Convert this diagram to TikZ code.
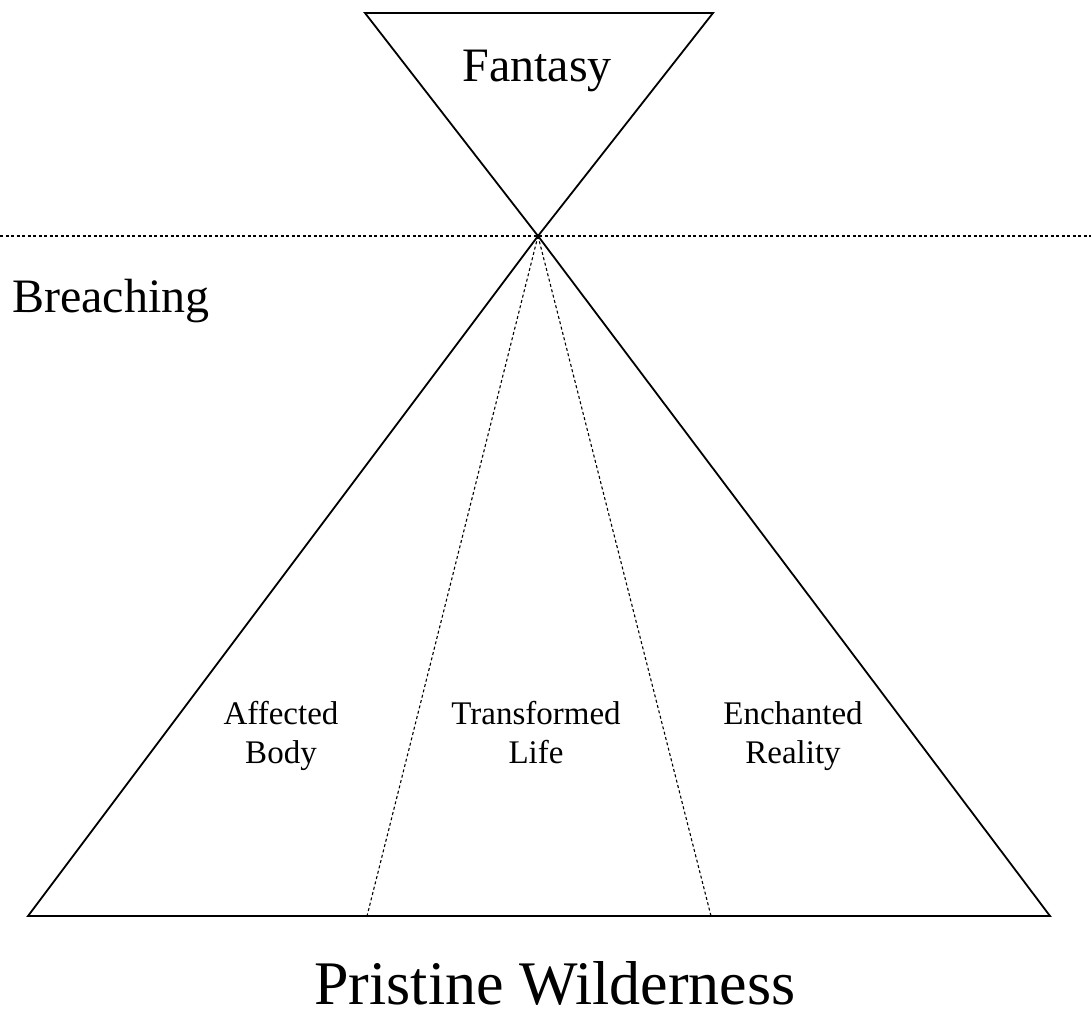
\documentclass[tikz,border=0pt]{standalone}
\usepackage{fontspec}
\setmainfont{Liberation Serif}
\usepackage{tikz}
\usetikzlibrary{positioning}
\newcommand{\solidw}{1.8pt}
\newcommand{\dashw}{1.1pt}

\tikzset{
	edgeline/.style = {line width=\solidw, line join=miter},
	splitline/.style = {line width=\dashw, dash pattern=on 3pt off 2.5pt},
	biglabel/.style = {font=\fontsize{48}{56}\selectfont, anchor=base, inner sep=0pt},
	partlabel/.style = {font=\fontsize{33}{39}\selectfont, align=center, anchor=base, inner sep=0pt},
}

\begin{document}
\begin{tikzpicture}[x=1pt,y=-1pt]
	\useasboundingbox (0,0) rectangle (1091,1012);
	%\draw[help lines] (0,0) grid[step=100] (1091,1012);

	% corners
	\coordinate (apex) at (538,236);
	\coordinate (fl) at (365,13);
	\coordinate (fr) at (713,13);
	\coordinate (bl) at (28,916);
	\coordinate (br) at (1050,916);
	\coordinate (sl) at (367,916);
	\coordinate (sr) at (711,916);
	\coordinate (hl) at (0,236);
	\coordinate (hr) at (1091,236);

	% fantasy triangle
	\draw[edgeline] (fl) -- (fr) -- (apex) -- cycle;
	% wilderness triangle
	\draw[edgeline] (apex) -- (bl) -- (br) -- cycle;
	% dashed lines
	\draw[splitline] (hl) -- (hr);
	\draw[splitline] (apex) -- (sl);
	\draw[splitline] (apex) -- (sr);

	% labels
	\node[biglabel] (fantasy) at (537,81) {Fantasy};
	\node[biglabel, anchor=base west] (breach) at (12,312) {Breaching};
	\node[biglabel, font=\fontsize{62}{70}\selectfont, text depth=0pt] (wild) at (555,1004) {Pristine Wilderness};
	\node[partlabel] (body) at (281,763) {Affected\\Body};
	\node[partlabel] (life) at (536,763) {Transformed\\Life};
	\node[partlabel] (real) at (793,763) {Enchanted\\Reality};
\end{tikzpicture}
\end{document}
